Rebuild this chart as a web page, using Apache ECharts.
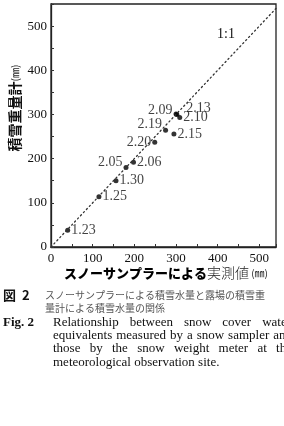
<!DOCTYPE html>
<html>
<head>
<meta charset="utf-8">
<script src="https://cdn.jsdelivr.net/npm/echarts@6/dist/echarts.min.js"></script>
<style>
  html, body { margin: 0; padding: 0; background: #fff; }
  #chart { width: 284px; height: 426px; }
</style>
</head>
<body>
<div id="chart"></div>
<script>
// スノーサンプラー実測値 (mm) / 積雪重量計 (mm) / 観測日ラベル
var samplerValues = [40, 115, 156, 180, 198, 249, 275, 295, 300, 302, 309];
var meterValues   = [38, 114, 150, 180, 192, 237, 264, 256, 301, 300, 293];
var pointLabels   = ['1.23', '1.25', '1.30', '2.05', '2.06', '2.20', '2.19', '2.15', '2.09', '2.13', '2.10'];
var oneToOne      = [0, 540];

// ラベルの置き方 (左側・ずらし)
var labelPlace = {
    '2.09': {position: 'left', offset: [0, -4]},
    '2.13': {position: 'right', offset: [6, -6]},
    '2.19': {position: 'left', offset: [0, -6]},
    '2.20': {position: 'left', offset: [0, 0]},
    '2.05': {position: 'left', offset: [0, -5]}
};

var serif = '"Liberation Serif", "DejaVu Serif", serif';
var gothic = '"Noto Sans CJK JP", "Noto Sans", sans-serif';

var points = [];
for (var i = 0; i < samplerValues.length; i++) {
    var p = labelPlace[pointLabels[i]] || {position: 'right', offset: [0, 0]};
    points.push({
        value: [samplerValues[i], meterValues[i]],
        name: pointLabels[i],
        label: {position: p.position, offset: p.offset}
    });
}

// 英文キャプションの両端揃え
var measure = document.createElement('canvas').getContext('2d');
function justify(words, x0, x1, y, font) {
    measure.font = font;
    var widths = words.map(function (w) { return measure.measureText(w).width; });
    var total = widths.reduce(function (a, b) { return a + b; }, 0);
    var gap = words.length > 1 ? (x1 - x0 - total) / (words.length - 1) : 0;
    var x = x0, out = [];
    for (var k = 0; k < words.length; k++) {
        out.push({type: 'text', x: x, y: y, style: {text: words[k], font: font, fill: '#111', textVerticalAlign: 'middle'}});
        x += widths[k] + gap;
    }
    return out;
}

var capFont = '13px ' + serif;
var graphics = [
    // 1:1
    {type: 'text', x: 226, y: 34, style: {text: '1:1', font: '14px ' + serif, fill: '#111', textAlign: 'center', textVerticalAlign: 'middle'}},
    // 縦軸名
    {type: 'text', x: 15, y: 108, rotation: Math.PI / 2,
        style: {
            rich: {
                b: {fontFamily: gothic, fontWeight: 'bold', fontSize: 14, fill: '#111'},
                n: {fontFamily: gothic, fontSize: 10, fill: '#222'}
            },
            text: '{b|積雪重量計}{n|(㎜)}', textAlign: 'center', textVerticalAlign: 'middle'
        }},
    // 横軸名
    {type: 'text', x: 166, y: 273,
        style: {
            rich: {
                b: {fontFamily: gothic, fontWeight: 900, fontSize: 13, fill: '#000'},
                n: {fontFamily: gothic, fontSize: 14, fontWeight: 300, fill: '#222'},
                m: {fontFamily: gothic, fontSize: 10, fill: '#222'}
            },
            text: '{b|スノーサンプラーによる}{n|実測値}{m| (㎜)}', textAlign: 'center', textVerticalAlign: 'middle'
        }},
    // 和文キャプション
    {type: 'text', x: 3, y: 295, style: {text: '図  2', font: 'bold 13px ' + gothic, fill: '#111', textVerticalAlign: 'middle'}},
    {type: 'text', x: 45, y: 295, style: {text: 'スノーサンプラーによる積雪水量と露場の積雪重', font: '10px ' + gothic, fill: '#555', textVerticalAlign: 'middle'}},
    {type: 'text', x: 45, y: 308, style: {text: '量計による積雪水量の関係', font: '10px ' + gothic, fill: '#555', textVerticalAlign: 'middle'}},
    // Fig. 2
    {type: 'text', x: 3, y: 323, style: {text: 'Fig. 2', font: 'bold 13px ' + serif, fill: '#111', textVerticalAlign: 'middle'}},
    {type: 'text', x: 53, y: 363, style: {text: 'meteorological observation site.', font: capFont, fill: '#111', textVerticalAlign: 'middle'}}
];
graphics = graphics
    .concat(justify(['Relationship', 'between', 'snow', 'cover', 'water'], 53, 291, 323, capFont))
    .concat(justify(['equivalents', 'measured', 'by', 'a', 'snow', 'sampler', 'and'], 53, 292, 336, capFont))
    .concat(justify(['those', 'by', 'the', 'snow', 'weight', 'meter', 'at', 'the'], 53, 292, 349, capFont));

var myChart = echarts.init(document.getElementById('chart'), null, {renderer: 'canvas'});
var axisCommon = {
    type: 'value',
    min: 0,
    interval: 100,
    splitLine: {show: false},
    axisLine: {show: true, onZero: false, lineStyle: {color: '#222', width: 1.3}},
    axisTick: {show: true, inside: true, length: 3, lineStyle: {color: '#333'}},
    minorTick: {show: true, splitNumber: 2, length: 3, lineStyle: {color: '#333'}},
    axisLabel: {
        fontFamily: serif, fontSize: 13, color: '#111', showMaxLabel: false,
        formatter: function (v) { return v % 100 === 0 ? String(v) : ''; }
    }
};

var option = {
    animation: false,
    backgroundColor: '#fff',
    grid: {left: 51, right: 8, top: 4, bottom: 179, show: true, borderColor: '#222', borderWidth: 1.3},
    xAxis: echarts.util.merge({max: oneToOne[1], axisLabel: {margin: 5}}, axisCommon, false),
    yAxis: echarts.util.merge({max: 550, axisLabel: {margin: 4}}, axisCommon, false),
    series: [
        {
            type: 'line',
            data: [[oneToOne[0], oneToOne[0]], [oneToOne[1], oneToOne[1]]],
            symbol: 'none',
            silent: true,
            lineStyle: {color: '#333', width: 1.3, type: [1.3, 3], cap: 'round'}
        },
        {
            type: 'scatter',
            data: points,
            symbolSize: 5,
            itemStyle: {color: '#000'},
            label: {
                show: true,
                distance: 1,
                formatter: '{b}',
                fontFamily: serif,
                fontSize: 14,
                color: '#111'
            }
        }
    ],
    graphic: graphics
};
myChart.setOption(option);
</script>
</body>
</html>
